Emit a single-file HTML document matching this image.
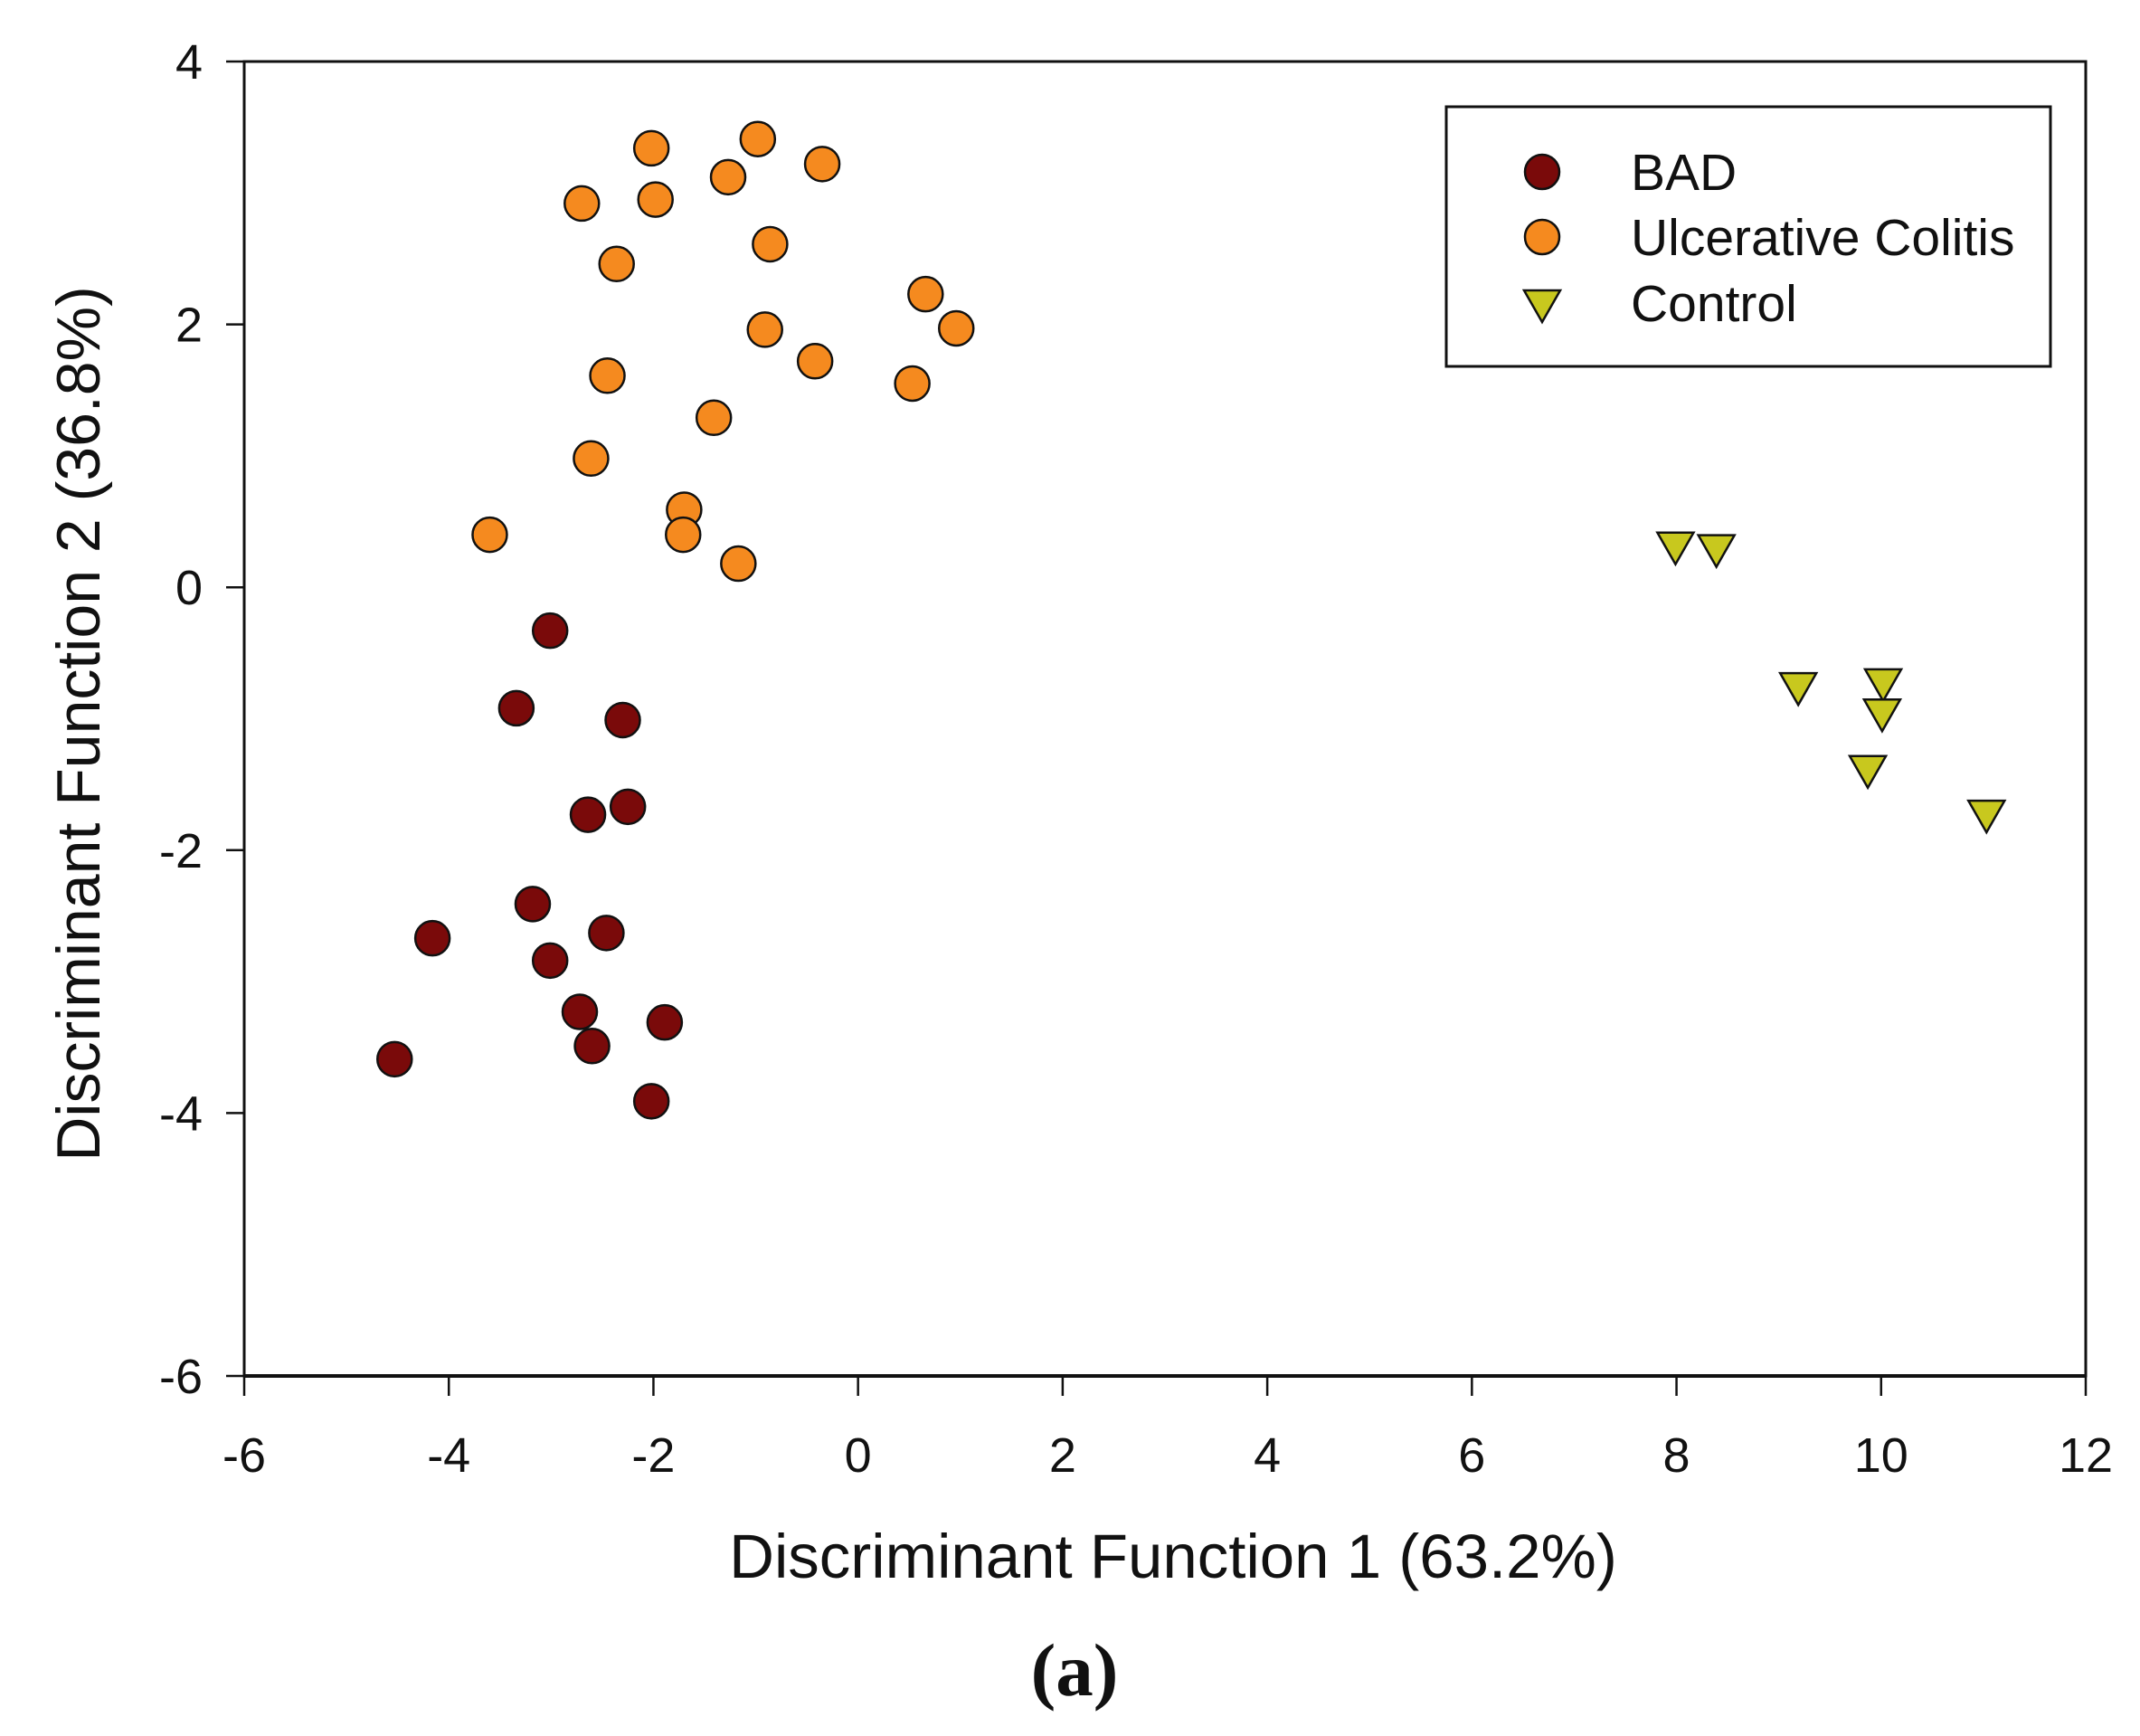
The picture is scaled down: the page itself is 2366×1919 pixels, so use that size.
<!DOCTYPE html>
<html><head><meta charset="utf-8">
<style>
html,body{margin:0;padding:0;background:#fff;}
svg{display:block;font-family:"Liberation Sans",Arial,sans-serif;}
</style></head>
<body>
<svg id="chart" width="2366" height="1919" viewBox="0 0 2366 1919" xmlns="http://www.w3.org/2000/svg">
<rect x="0" y="0" width="2366" height="1919" fill="#fff"/>
<g id="axes"></g>
<g id="marks"></g>
<g>
  <rect x="1599" y="118" width="668" height="287" fill="#fff" stroke="#111" stroke-width="3"/>
  <circle cx="1705" cy="190" r="19" fill="#7a0a0a" stroke="#111" stroke-width="2.5"/>
  <text x="1803" y="210" font-size="57" fill="#111">BAD</text>
  <circle cx="1705" cy="262" r="19" fill="#f58a1f" stroke="#111" stroke-width="2.5"/>
  <text x="1803" y="282" font-size="57" fill="#111">Ulcerative Colitis</text>
  <polygon points="1685,321 1725,321 1705,356" fill="#c8c81e" stroke="#111" stroke-width="2.5"/>
  <text x="1803" y="355" font-size="57" fill="#111">Control</text>
</g>
<text x="1297" y="1744" font-size="69" text-anchor="middle" fill="#111">Discriminant Function 1 (63.2%)</text>
<text x="0" y="0" font-size="68" text-anchor="middle" fill="#111" transform="translate(110,800) rotate(-90)">Discriminant Function 2 (36.8%)</text>
<text x="1188" y="1874" font-size="83" font-weight="bold" text-anchor="middle" fill="#111" font-family="Liberation Serif, serif">(a)</text>
</svg>
<script>
const xTicks = [-6,-4,-2,0,2,4,6,8,10,12];
const yTicks = [-6,-4,-2,0,2,4];
const ucX = [-2.02,-0.98,-0.35,-2.70,-1.98,-1.27,-0.86,-2.36,0.66,0.96,-0.91,-0.42,0.53,-2.45,-1.41,-2.61,-1.70,-1.71,-3.60,-1.17];
const ucY = [3.34,3.41,3.22,2.92,2.95,3.12,2.61,2.46,2.23,1.97,1.96,1.72,1.55,1.61,1.29,0.98,0.59,0.40,0.40,0.18];
const badX = [-3.01,-3.34,-2.30,-2.64,-2.25,-3.18,-4.16,-2.46,-3.01,-2.72,-2.60,-1.89,-4.53,-2.02];
const badY = [-0.33,-0.92,-1.01,-1.73,-1.67,-2.41,-2.67,-2.63,-2.84,-3.23,-3.49,-3.31,-3.59,-3.91];
const ctlX = [7.99,8.39,9.19,10.02,10.01,9.87,11.03];
const ctlY = [0.32,0.30,-0.75,-0.72,-0.95,-1.38,-1.72];

const L=270,R=2306,T=68,B=1521;
const sx=v=>L+(v+6)/18*(R-L);
const sy=v=>T+(4-v)/10*(B-T);
const NS="http://www.w3.org/2000/svg";
const axes=document.getElementById('axes');
const marks=document.getElementById('marks');
function mk(tag,attrs,parent){const e=document.createElementNS(NS,tag);for(const k in attrs)e.setAttribute(k,attrs[k]);parent.appendChild(e);return e;}

const frame=mk('rect',{x:L,y:T,width:R-L,height:B-T,fill:'none',stroke:'#111','stroke-width':3},axes);


const bl=mk('line',{x1:L,y1:B,x2:R,y2:B,stroke:'#111','stroke-width':4},axes);



xTicks.forEach(v=>{
  const t=mk('line',{x1:sx(v),y1:B,x2:sx(v),y2:B+22,stroke:'#111','stroke-width':2.5},axes);
  
  
  const l=mk('text',{x:sx(v),y:1627,'font-size':54,'text-anchor':'middle',fill:'#111'},axes);
  l.textContent=v;
  
  
});
yTicks.forEach(v=>{
  const t=mk('line',{x1:L-20,y1:sy(v),x2:L,y2:sy(v),stroke:'#111','stroke-width':2.5},axes);
  
  
  const l=mk('text',{x:224,y:sy(v)+19,'font-size':54,'text-anchor':'end',fill:'#111'},axes);
  l.textContent=v;
  
  
});

ucX.forEach((v,i)=>{
  const c=mk('circle',{cx:sx(v),cy:sy(ucY[i]),r:19,fill:'#f58a1f',stroke:'#111','stroke-width':2.5},marks);
  
  
});
badX.forEach((v,i)=>{
  const c=mk('circle',{cx:sx(v),cy:sy(badY[i]),r:19,fill:'#7a0a0a',stroke:'#111','stroke-width':2.5},marks);
  
  
});
ctlX.forEach((v,i)=>{
  const x=sx(v),y=sy(ctlY[i]);
  const p=mk('polygon',{points:`${x-20},${y-14} ${x+20},${y-14} ${x},${y+21}`,fill:'#c8c81e',stroke:'#111','stroke-width':2.5},marks);
  
  
});
</script>
</body></html>
